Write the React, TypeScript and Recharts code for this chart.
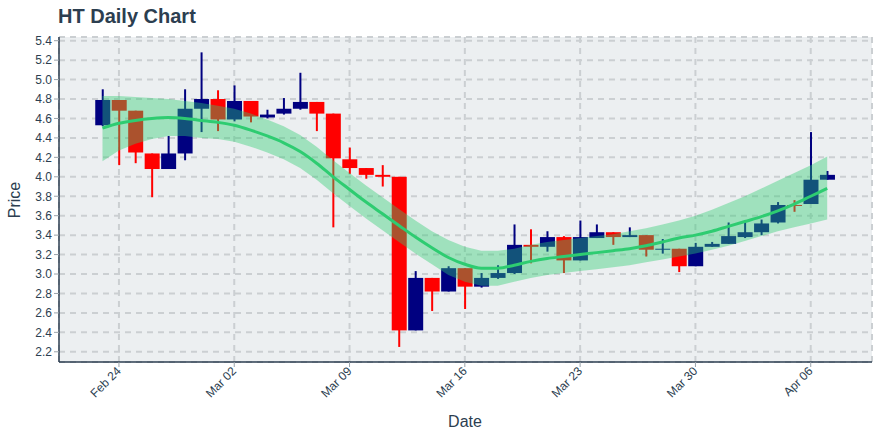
import { ComposedChart, Bar, Area, Line, XAxis, YAxis, CartesianGrid } from "recharts";

const dates = [
  "2020-02-23", "2020-02-24", "2020-02-25", "2020-02-26", "2020-02-27", "2020-02-28", "2020-02-29",
  "2020-03-01", "2020-03-02", "2020-03-03", "2020-03-04", "2020-03-05", "2020-03-06", "2020-03-07",
  "2020-03-08", "2020-03-09", "2020-03-10", "2020-03-11", "2020-03-12", "2020-03-13", "2020-03-14",
  "2020-03-15", "2020-03-16", "2020-03-17", "2020-03-18", "2020-03-19", "2020-03-20", "2020-03-21",
  "2020-03-22", "2020-03-23", "2020-03-24", "2020-03-25", "2020-03-26", "2020-03-27", "2020-03-28",
  "2020-03-29", "2020-03-30", "2020-03-31", "2020-04-01", "2020-04-02", "2020-04-03", "2020-04-04",
  "2020-04-05", "2020-04-06", "2020-04-07",
];

const open = [
  4.53, 4.79, 4.68, 4.24, 4.08, 4.24, 4.70, 4.80, 4.59, 4.78, 4.61, 4.65, 4.70, 4.77, 4.65,
  4.18, 4.09, 4.02, 4.00, 2.42, 2.96, 2.82, 3.06, 2.87, 2.96, 3.01, 3.30, 3.28, 3.38, 3.14,
  3.37, 3.43, 3.38, 3.40, 3.25, 3.26, 3.08, 3.28, 3.31, 3.38, 3.43, 3.53, 3.71, 3.72, 3.97,
];
const high = [
  4.90, 4.79, 4.68, 4.24, 4.42, 4.90, 5.28, 4.89, 4.94, 4.78, 4.69, 4.81, 5.07, 4.77, 4.65,
  4.30, 4.09, 4.12, 4.00, 3.03, 2.96, 3.08, 3.06, 3.01, 3.09, 3.51, 3.46, 3.44, 3.39, 3.55,
  3.51, 3.43, 3.48, 3.40, 3.36, 3.26, 3.32, 3.33, 3.53, 3.54, 3.56, 3.74, 3.76, 4.46, 4.06,
];
const low = [
  4.52, 4.12, 4.14, 3.79, 4.08, 4.17, 4.46, 4.47, 4.57, 4.56, 4.60, 4.64, 4.69, 4.47, 3.48,
  4.03, 3.98, 3.90, 2.25, 2.42, 2.62, 2.82, 2.64, 2.86, 2.95, 3.00, 3.11, 3.23, 3.01, 3.14,
  3.37, 3.30, 3.38, 3.18, 3.21, 3.02, 3.08, 3.28, 3.31, 3.37, 3.40, 3.52, 3.64, 3.72, 3.97,
];
const close = [
  4.79, 4.68, 4.25, 4.08, 4.24, 4.70, 4.80, 4.59, 4.78, 4.62, 4.64, 4.70, 4.77, 4.65, 4.19,
  4.09, 4.02, 4.00, 2.42, 2.96, 2.82, 3.06, 2.87, 2.96, 3.01, 3.30, 3.28, 3.38, 3.14, 3.38,
  3.43, 3.38, 3.40, 3.25, 3.26, 3.08, 3.28, 3.31, 3.39, 3.43, 3.52, 3.71, 3.70, 3.97, 4.02,
];

const trend = [
  4.50, 4.55, 4.58, 4.60, 4.61, 4.60, 4.58, 4.56, 4.53, 4.48, 4.42, 4.35, 4.26, 4.14, 4.00,
  3.87, 3.74, 3.62, 3.50, 3.38, 3.27, 3.17, 3.10, 3.06, 3.06, 3.09, 3.13, 3.16, 3.18, 3.20,
  3.22, 3.24, 3.26, 3.29, 3.33, 3.37, 3.40, 3.44, 3.49, 3.54, 3.59, 3.65, 3.72, 3.80, 3.88,
];
const bandUpper = [
  4.83, 4.83, 4.82, 4.81, 4.80, 4.78, 4.76, 4.73, 4.70, 4.65, 4.59, 4.52, 4.43, 4.31, 4.17,
  4.04, 3.91, 3.79, 3.67, 3.55, 3.44, 3.35, 3.28, 3.24, 3.24, 3.26, 3.30, 3.33, 3.35, 3.37,
  3.39, 3.41, 3.44, 3.47, 3.51, 3.55, 3.60, 3.66, 3.73, 3.80, 3.88, 3.96, 4.04, 4.12, 4.21,
];
const bandLower = [
  4.16, 4.27, 4.34, 4.39, 4.42, 4.42, 4.40, 4.39, 4.36, 4.31, 4.25, 4.18, 4.09, 3.97, 3.83,
  3.70, 3.57, 3.45, 3.33, 3.21, 3.10, 2.99, 2.92, 2.88, 2.88, 2.92, 2.96, 2.99, 3.01, 3.03,
  3.05, 3.07, 3.09, 3.12, 3.15, 3.18, 3.21, 3.25, 3.29, 3.34, 3.39, 3.44, 3.48, 3.52, 3.56,
];

const tickDates = ["2020-02-24", "2020-03-02", "2020-03-09", "2020-03-16", "2020-03-23", "2020-03-30", "2020-04-06"];
const tickLabels = ["Feb 24", "Mar 02", "Mar 09", "Mar 16", "Mar 23", "Mar 30", "Apr 06"];
const priceTicks = [2.2, 2.4, 2.6, 2.8, 3.0, 3.2, 3.4, 3.6, 3.8, 4.0, 4.2, 4.4, 4.6, 4.8, 5.0, 5.2, 5.4];

const DAY_MS = 86400000;
const dayOf = (d: string) => Math.round((Date.parse(d) - Date.parse(dates[0])) / DAY_MS);
const xTicks = tickDates.map(dayOf);

const data = dates.map((d, i) => ({
  day: dayOf(d),
  open: open[i],
  high: high[i],
  low: low[i],
  close: close[i],
  range: [low[i], high[i]],
  band: [bandLower[i], bandUpper[i]],
  trend: trend[i],
}));

const FONT = '"Liberation Sans", Arial, sans-serif';
const TEXT = "#2c3e50";

function Candle(props: any) {
  const { x, y, width, height, payload } = props;
  if (!payload || height == null) return null;
  const { open: o, close: c, high: h, low: l } = payload;
  const up = c >= o;
  const color = up ? "#000080" : "#ff0000";
  const ratio = h > l ? height / (h - l) : 0;
  const bodyTop = y + (h - Math.max(o, c)) * ratio;
  const bodyH = Math.abs(o - c) * ratio;
  const cx = x + width / 2;
  return (
    <g>
      <line x1={cx} x2={cx} y1={y} y2={y + height} stroke={color} strokeWidth={2} />
      <rect x={x} y={bodyTop} width={width} height={bodyH} fill={color} />
    </g>
  );
}

function DateTick({ x, y, payload }: any) {
  const label = tickLabels[xTicks.indexOf(payload.value)];
  return (
    <text
      x={x}
      y={y}
      transform={`rotate(-45, ${x}, ${y})`}
      textAnchor="end"
      dominantBaseline="central"
      fontSize={12}
      fontFamily={FONT}
      fill={TEXT}
    >
      {label}
    </text>
  );
}

export default function App() {
  return (
    <div style={{ position: "absolute", left: 0, top: 0, width: 880, height: 440, background: "#fff", fontFamily: FONT }}>
      <div style={{ position: "absolute", left: 58, top: 4, fontSize: 20, fontWeight: 700, color: TEXT, lineHeight: "24px" }}>
        HT Daily Chart
      </div>
      <div
        style={{
          position: "absolute",
          left: 15,
          top: 200,
          fontSize: 16,
          color: TEXT,
          transform: "translate(-50%, -50%) rotate(-90deg)",
          lineHeight: "16px",
        }}
      >
        Price
      </div>
      <div style={{ position: "absolute", left: 465, top: 422, fontSize: 16, color: TEXT, transform: "translate(-50%, -50%)", lineHeight: "16px" }}>
        Date
      </div>
      <ComposedChart width={880} height={440} data={data} margin={{ top: 37, right: 8, left: 0, bottom: 0 }}>
        <CartesianGrid fill="#eceff1" stroke="#cbcfd2" strokeWidth={2} strokeDasharray="6 5" />
        <XAxis
          dataKey="day"
          type="number"
          domain={[-2.64, 46.72]}
          ticks={xTicks}
          interval={0}
          allowDataOverflow
          height={78}
          tickSize={5}
          tick={<DateTick />}
          tickLine={{ stroke: "#9aa3ab" }}
          axisLine={{ stroke: "#2c3e50", strokeWidth: 1.5 }}
        />
        <YAxis
          type="number"
          domain={[2.095, 5.438]}
          ticks={priceTicks}
          interval={0}
          allowDataOverflow
          width={59}
          tickSize={5}
          tickMargin={2}
          tickFormatter={(v: number) => v.toFixed(1)}
          tick={{ fontSize: 12, fill: TEXT, fontFamily: FONT }}
          tickLine={{ stroke: "#9aa3ab" }}
          axisLine={{ stroke: "#2c3e50", strokeWidth: 1.5 }}
        />
        <Bar dataKey="range" barSize={15} shape={<Candle />} isAnimationActive={false} />
        <Area
          dataKey="band"
          type="linear"
          fill="#2ecc71"
          fillOpacity={0.4}
          stroke="none"
          activeDot={false}
          zIndex={350}
          isAnimationActive={false}
        />
        <Line dataKey="trend" type="monotone" stroke="#2ecc71" strokeWidth={3} dot={false} activeDot={false} zIndex={400} isAnimationActive={false} />
      </ComposedChart>
    </div>
  );
}
